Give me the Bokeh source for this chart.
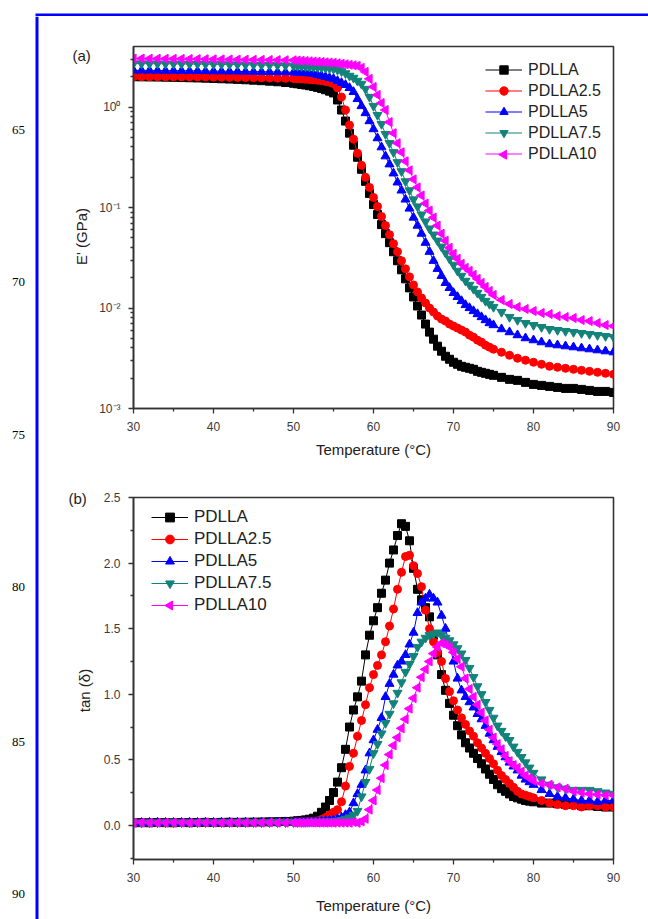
import numpy as np
from bokeh.plotting import figure
from bokeh.layouts import column, row
from bokeh.models import FixedTicker, Legend, LegendItem, Range1d
from bokeh.core.properties import value
from bokeh.embed import file_html
from bokeh.resources import INLINE

# ---------------------------------------------------------------- data
series_names = ["PDLLA", "PDLLA2.5", "PDLLA5", "PDLLA7.5", "PDLLA10"]

# (a) storage modulus; temperatures in degC, E' stored as log10(E' / GPa)
temp_a = [30, 31, 32, 33, 34, 35, 36, 37, 38, 39, 40, 41, 42, 43, 44, 45, 46, 47, 48, 49, 50,
          50.5, 51, 51.5, 52, 52.5, 53, 53.5, 54, 54.5, 55, 55.5, 56, 56.5, 57, 57.5, 58, 58.5, 59, 59.5, 60,
          60.5, 61, 61.5, 62, 62.5, 63, 63.5, 64, 64.5, 65, 65.5, 66, 66.5, 67, 67.5, 68, 68.5, 69, 69.5, 70,
          70.5, 71, 71.5, 72, 72.5, 73, 73.5, 74, 74.5, 75,
          76, 77, 78, 79, 80, 81, 82, 83, 84, 85, 86, 87, 88, 89, 90]

log_e_pdlla = [.301, .300, .299, .298, .297, .295, .293, .291, .289, .287, .284, .281, .278, .275, .271, .267, .262, .257, .251, .244, .236,
               .231, .225, .219, .212, .204, .195, .185, .172, .158, .140, .070, -.030, -.140, -.260, -.380, -.500, -.620, -.740, -.860, -.970,
               -1.07, -1.17, -1.26, -1.35, -1.44, -1.53, -1.62, -1.71, -1.80, -1.89, -1.98, -2.07, -2.16, -2.24, -2.31, -2.38, -2.43, -2.48, -2.51, -2.54,
               -2.56, -2.58, -2.59, -2.60, -2.61, -2.63, -2.64, -2.65, -2.66, -2.67,
               -2.69, -2.71, -2.72, -2.74, -2.76, -2.77, -2.78, -2.79, -2.80, -2.80, -2.81, -2.82, -2.83, -2.83, -2.84]

log_e_pdlla25 = [.302, .302, .301, .301, .300, .300, .299, .299, .298, .298, .297, .296, .295, .294, .293, .292, .290, .289, .287, .285, .283,
                 .281, .279, .276, .273, .270, .266, .261, .255, .247, .235, .190, .100, -.030, -.180, -.320, -.460, -.580, -.700, -.800, -.900,
                 -0.99, -1.09, -1.18, -1.27, -1.36, -1.44, -1.53, -1.61, -1.69, -1.77, -1.84, -1.90, -1.95, -2.00, -2.04, -2.08, -2.11, -2.13, -2.16, -2.18,
                 -2.20, -2.22, -2.24, -2.27, -2.29, -2.32, -2.34, -2.37, -2.39, -2.41,
                 -2.44, -2.47, -2.50, -2.52, -2.54, -2.56, -2.58, -2.59, -2.60, -2.61, -2.62, -2.63, -2.64, -2.65, -2.66]

log_e_pdlla5 = [.365, .364, .364, .363, .362, .362, .361, .360, .359, .358, .357, .356, .355, .354, .353, .352, .351, .350, .348, .347, .345,
                .343, .340, .338, .335, .330, .320, .310, .300, .290, .280, .260, .240, .220, .190, .150, .080, .010, -.060, -.140, -.220,
                -.31, -.40, -.49, -.57, -.66, -.75, -.83, -.92, -1.01, -1.10, -1.18, -1.26, -1.35, -1.44, -1.53, -1.61, -1.68, -1.75, -1.80, -1.85,
                -1.89, -1.93, -1.97, -2.00, -2.03, -2.06, -2.09, -2.12, -2.15, -2.17,
                -2.21, -2.24, -2.27, -2.30, -2.32, -2.34, -2.36, -2.37, -2.38, -2.39, -2.40, -2.41, -2.42, -2.43, -2.44]

log_e_pdlla75 = [.432, .432, .431, .431, .430, .430, .429, .428, .427, .426, .425, .424, .423, .422, .420, .419, .417, .416, .414, .412, .410,
                 .408, .405, .403, .400, .398, .395, .392, .390, .385, .380, .370, .355, .335, .310, .290, .260, .230, .180, .100, .010,
                 -.08, -.17, -.27, -.36, -.45, -.55, -.64, -.74, -.83, -.92, -.99, -1.07, -1.14, -1.21, -1.27, -1.33, -1.39, -1.45, -1.51, -1.57,
                 -1.63, -1.68, -1.73, -1.77, -1.81, -1.85, -1.89, -1.93, -1.96, -1.99,
                 -2.04, -2.09, -2.12, -2.15, -2.17, -2.19, -2.21, -2.22, -2.23, -2.24, -2.25, -2.26, -2.27, -2.28, -2.29]

log_e_pdlla10 = [.482, .482, .481, .481, .480, .480, .479, .478, .477, .476, .475, .474, .473, .472, .471, .470, .469, .468, .467, .466, .465,
                 .463, .460, .458, .455, .453, .450, .448, .445, .443, .440, .435, .430, .425, .420, .415, .410, .390, .350, .280, .200,
                 .12, .04, -.03, -.15, -.26, -.36, -.45, -.54, -.63, -.72, -.80, -.88, -.96, -1.03, -1.10, -1.18, -1.26, -1.33, -1.40, -1.46,
                 -1.51, -1.56, -1.60, -1.63, -1.67, -1.71, -1.75, -1.79, -1.83, -1.87,
                 -1.92, -1.96, -1.99, -2.01, -2.03, -2.05, -2.06, -2.08, -2.09, -2.10, -2.12, -2.13, -2.15, -2.17, -2.18]

# (b) loss factor tan(delta)
temp_b = [30, 31, 32, 33, 34, 35, 36, 37, 38, 39, 40, 41, 42, 43, 44, 45, 46, 47, 48, 49, 50,
          50.5, 51, 51.5, 52, 52.5, 53, 53.5, 54, 54.5, 55, 55.5, 56, 56.5, 57, 57.5, 58, 58.5, 59, 59.5, 60,
          60.5, 61, 61.5, 62, 62.5, 63, 63.5, 64, 64.5, 65, 65.5, 66, 66.5, 67, 67.5, 68, 68.5, 69, 69.5, 70,
          70.5, 71, 71.5, 72, 72.5, 73, 73.5, 74, 74.5, 75, 75.5, 76, 76.5, 77, 77.5, 78, 78.5, 79, 79.5, 80,
          81, 82, 83, 84, 85, 86, 87, 88, 89, 90]

tan_pdlla = [.020, .021, .020, .022, .021, .020, .022, .021, .022, .023, .022, .023, .024, .023, .024, .025, .026, .027, .028, .030, .032,
             .035, .038, .042, .047, .055, .070, .100, .140, .190, .250, .330, .440, .580, .750, .880, .980, 1.10, 1.30, 1.45, 1.56,
             1.66, 1.77, 1.87, 2.00, 2.10, 2.21, 2.30, 2.28, 2.17, 1.96, 1.80, 1.72, 1.66, 1.59, 1.45, 1.30, 1.15, 1.03, 0.93, 0.84,
             0.76, 0.69, 0.63, 0.59, 0.55, 0.51, 0.47, 0.43, 0.39, 0.35, 0.31, 0.28, 0.26, 0.24, 0.22, 0.21, 0.20, 0.19, 0.185, 0.18,
             0.17, 0.17, 0.165, 0.16, 0.16, 0.15, 0.15, 0.145, 0.14, 0.14]

tan_pdlla25 = [.020, .019, .020, .021, .020, .019, .020, .021, .020, .021, .020, .021, .020, .021, .022, .021, .022, .023, .024, .025, .026,
               .027, .028, .029, .030, .032, .036, .045, .060, .080, .100, .120, .180, .300, .450, .550, .680, .800, .920, 1.05, 1.15,
               1.22, 1.30, 1.40, 1.52, 1.65, 1.80, 1.93, 2.05, 2.06, 1.98, 1.92, 1.82, 1.64, 1.50, 1.40, 1.32, 1.25, 1.12, 1.02, 0.95,
               0.88, 0.82, 0.77, 0.72, 0.68, 0.63, 0.59, 0.55, 0.51, 0.47, 0.42, 0.38, 0.35, 0.32, 0.29, 0.26, 0.24, 0.23, 0.22, 0.21,
               0.19, 0.17, 0.16, 0.15, 0.15, 0.14, 0.15, 0.15, 0.14, 0.14]

tan_pdlla5 = [.021, .020, .021, .022, .021, .020, .021, .022, .021, .022, .021, .022, .023, .022, .023, .022, .023, .024, .024, .025, .025,
              .026, .026, .027, .027, .028, .030, .032, .035, .037, .040, .050, .060, .080, .100, .170, .240, .310, .420, .550, .650,
              .73, .82, .98, 1.08, 1.15, 1.22, 1.25, 1.30, 1.38, 1.47, 1.62, 1.70, 1.73, 1.76, 1.73, 1.70, 1.60, 1.50, 1.38, 1.25,
              1.12, 1.03, .98, .94, .90, .85, .81, .76, .70, .65, .60, .56, .52, .48, .45, .42, .38, .35, .33, .31,
              .27, .24, .22, .21, .20, .19, .19, .18, .19, .19]

tan_pdlla75 = [.022, .021, .022, .021, .022, .023, .022, .021, .022, .023, .022, .023, .022, .023, .022, .023, .022, .023, .024, .023, .024,
               .024, .025, .025, .026, .026, .027, .028, .028, .029, .030, .035, .040, .050, .060, .080, .110, .220, .330, .430, .550,
               .62, .70, .78, .85, .93, 1.01, 1.09, 1.17, 1.23, 1.29, 1.36, 1.40, 1.43, 1.45, 1.46, 1.47, 1.45, 1.43, 1.41, 1.38,
               1.35, 1.31, 1.26, 1.20, 1.13, 1.06, 1.00, .94, .88, .82, .76, .72, .68, .65, .60, .56, .52, .48, .44, .40,
               .35, .31, .29, .28, .27, .27, .27, .26, .25, .24]

tan_pdlla10 = [.021, .022, .021, .020, .021, .022, .021, .020, .021, .022, .021, .020, .021, .022, .021, .020, .021, .022, .021, .020, .021,
               .021, .020, .021, .022, .021, .020, .021, .020, .021, .020, .021, .020, .021, .020, .025, .020, .030, .050, .120, .190,
               .27, .36, .46, .54, .61, .67, .74, .81, .89, .97, 1.05, 1.13, 1.19, 1.25, 1.31, 1.36, 1.39, 1.38, 1.36, 1.32,
               1.27, 1.21, 1.12, 1.04, .98, .92, .86, .80, .73, .67, .62, .58, .53, .49, .46, .44, .41, .38, .36, .34,
               .32, .31, .29, .28, .26, .25, .24, .235, .23, .23]

temp_ticks = [30, 40, 50, 60, 70, 80, 90]
temp_minor_ticks = [35, 45, 55, 65, 75, 85]
e_ticks = [0.001, 0.01, 0.1, 1]
e_tick_labels = ["10\u207b\u00b3", "10\u207b\u00b2", "10\u207b\u00b9", "10\u2070"]
tan_ticks = [0.0, 0.5, 1.0, 1.5, 2.0, 2.5]
tan_tick_labels = ["0.0", "0.5", "1.0", "1.5", "2.0", "2.5"]
tan_minor_ticks = [-0.25, 0.25, 0.75, 1.25, 1.75, 2.25]
line_numbers = ["65", "70", "75", "80", "85", "90"]
panel_tags = ["(a)", "(b)"]
y_titles = ["E' (GPa)", "tan (\u03b4)"]
x_title = "Temperature (\u00b0C)"

# ---------------------------------------------------------------- styles
SANS = "Liberation Sans"
SERIF = "Liberation Serif"
INK = "#333333"
PAGE_BLUE = "#0000ff"
colors = ["#000000", "#ff0000", "#0000ff", "#12837a", "#ff00ff"]
markers = ["square", "circle", "triangle", "inverted_triangle", "triangle"]
angles = [0, 0, 0, 0, np.pi / 2]     # last series: triangle turned to point left
sizes = [8, 8, 9, 9, 9]

PAGE_W, PAGE_H = 648, 919
TOP_H = 16      # top margin strip with the page rule
SIDE_W = 96     # left strip: page rule, line numbers, panel tags, y titles
FRAME_L = 133   # page x of both plot frames' left edge
FRAME_W = 480
LEG_GLYPH_W = 37


def style_axes(p, x_standoff):
    for ax in (p.xaxis[0], p.yaxis[0]):
        ax.axis_line_color = INK
        ax.axis_line_width = 1.6
        ax.major_tick_line_color = INK
        ax.minor_tick_line_color = INK
        ax.major_tick_line_width = 1.3
        ax.minor_tick_line_width = 1.3
        ax.major_tick_in = 0
        ax.major_tick_out = 5
        ax.minor_tick_in = 0
        ax.minor_tick_out = 3
        ax.major_label_text_font = SANS
        ax.major_label_text_font_size = "12px"
        ax.major_label_text_color = "#3a3a3a"
        ax.axis_label_text_font = SANS
        ax.axis_label_text_font_size = "15px"
        ax.axis_label_text_font_style = "normal"
        ax.axis_label_text_color = "#222222"
    p.xaxis[0].axis_label = x_title
    p.xaxis[0].major_label_standoff = 8
    p.yaxis[0].major_label_standoff = 8
    p.xaxis[0].axis_label_standoff = x_standoff
    p.xaxis[0].ticker = FixedTicker(ticks=temp_ticks, minor_ticks=temp_minor_ticks)
    p.xgrid.visible = False
    p.ygrid.visible = False
    p.outline_line_color = INK
    p.outline_line_width = 1.6
    p.outline_line_alpha = 1.0


def add_series(p, temps, values, idx):
    src = dict(x=temps, y=values)
    ln = p.line("x", "y", source=src, line_color=colors[idx], line_width=1)
    sc = p.scatter("x", "y", source=src, marker=markers[idx], size=sizes[idx],
                   angle=angles[idx], fill_color=colors[idx], line_color=colors[idx])
    return ln, sc


def build_legend(p, renderers, loc, row_h, font_size, frame_h, to_data_y):
    """Legend whose last key shows the left-pointing triangle.

    Bokeh draws legend markers unrotated, so that key marker is drawn as a
    glyph at the centre of the legend's last glyph cell instead.
    """
    items = []
    for i, (ln, sc) in enumerate(renderers):
        rs = [ln] if angles[i] else [ln, sc]
        items.append(LegendItem(label=series_names[i], renderers=rs))
    p.add_layout(Legend(items=items, location=loc, orientation="vertical",
                        glyph_width=LEG_GLYPH_W, glyph_height=row_h, label_height=row_h,
                        label_standoff=6, spacing=0, padding=0, margin=0,
                        label_text_font=SANS, label_text_font_size=font_size,
                        label_text_color="#222222", border_line_color=None,
                        background_fill_alpha=0))
    x0, x1 = p.x_range.start, p.x_range.end
    for i in range(len(renderers)):
        if not angles[i]:
            continue
        row_idx = len(renderers) - 1 - i
        px = loc[0] + LEG_GLYPH_W / 2
        py = loc[1] + (row_idx + 0.5) * row_h
        kx = x0 + px / FRAME_W * (x1 - x0)
        ky = to_data_y(py / frame_h)
        p.scatter([kx], [ky], marker=markers[i], size=sizes[i], angle=angles[i],
                  fill_color=colors[i], line_color=colors[i])


# ---------------------------------------------------------------- panel (a)
FRAME_H_A = 363
pa = figure(width=PAGE_W - SIDE_W, height=460 - TOP_H, output_backend="svg",
            toolbar_location=None, y_axis_type="log",
            x_range=Range1d(30, 90), y_range=Range1d(1e-3, 4),
            min_border_left=FRAME_L - SIDE_W, min_border_right=35,
            min_border_top=46 - TOP_H, min_border_bottom=51,
            background_fill_color="white", border_fill_color="white")
style_axes(pa, 7)
minor_log = [m * 10.0 ** d for d in (-3, -2, -1) for m in range(2, 10)] + [2.0, 3.0]
pa.yaxis[0].ticker = FixedTicker(ticks=e_ticks, minor_ticks=minor_log)
pa.yaxis[0].major_label_overrides = dict(zip(e_ticks, e_tick_labels))

rend_a = []
for i, logs in enumerate([log_e_pdlla, log_e_pdlla25, log_e_pdlla5, log_e_pdlla75, log_e_pdlla10]):
    rend_a.append(add_series(pa, temp_a, list(10.0 ** np.array(logs)), i))
lo_a, hi_a = np.log10(1e-3), np.log10(4)
# legend anchor is its lower-left corner, measured from the frame's lower-left
build_legend(pa, rend_a, (352, 244), 21, "16px", FRAME_H_A,
             lambda f: 10.0 ** (lo_a + f * (hi_a - lo_a)))

# ---------------------------------------------------------------- panel (b)
FRAME_H_B = 362
pb = figure(width=PAGE_W - SIDE_W, height=PAGE_H - 460, output_backend="svg",
            toolbar_location=None,
            x_range=Range1d(30, 90), y_range=Range1d(-0.26, 2.5),
            min_border_left=FRAME_L - SIDE_W, min_border_right=35,
            min_border_top=37, min_border_bottom=60,
            background_fill_color="white", border_fill_color="white")
style_axes(pb, 12)
pb.yaxis[0].ticker = FixedTicker(ticks=tan_ticks, minor_ticks=tan_minor_ticks)
pb.yaxis[0].major_label_overrides = dict(zip(tan_ticks, tan_tick_labels))

rend_b = []
for i, vals in enumerate([tan_pdlla, tan_pdlla25, tan_pdlla5, tan_pdlla75, tan_pdlla10]):
    rend_b.append(add_series(pb, temp_b, vals, i))
build_legend(pb, rend_b, (18, 243), 22, "17px", FRAME_H_B,
             lambda f: -0.26 + f * (2.5 - (-0.26)))


# ---------------------------------------------------------------- page margins
def blank_strip(w, h):
    s = figure(width=w, height=h, output_backend="svg", toolbar_location=None,
               x_range=Range1d(0, w), y_range=Range1d(0, h),
               x_axis_location=None, y_axis_location=None, min_border=0,
               outline_line_color=None, background_fill_color="white",
               border_fill_color="white")
    s.grid.visible = False
    return s


# top strip: blue page rule (page y 13..16)
top = blank_strip(PAGE_W, TOP_H)
top.quad(left=35, right=PAGE_W, top=TOP_H - 13, bottom=0,
         fill_color=PAGE_BLUE, line_color=None)

# left strip; its y runs upward from the page bottom (y = PAGE_H - page_y)
side_h = PAGE_H - TOP_H
side = blank_strip(SIDE_W, side_h)
side.quad(left=35, right=38, top=side_h, bottom=0, fill_color=PAGE_BLUE, line_color=None)
line_number_y = [129, 281, 434, 586, 741, 893]
side.text(x=[18] * len(line_numbers), y=[PAGE_H - v for v in line_number_y],
          text=line_numbers, text_font=value(SERIF), text_font_size=value("13px"),
          text_color="#000000", text_align="center", text_baseline="middle")
side.text(x=[72, 68], y=[PAGE_H - 55, PAGE_H - 498], text=panel_tags,
          text_font=value(SANS), text_font_size=value("15px"), text_color="#222222",
          text_align="left", text_baseline="middle")
side.text(x=[81, 84], y=[PAGE_H - 236, PAGE_H - 690], text=y_titles, angle=np.pi / 2,
          text_font=value(SANS), text_font_size=value("15px"), text_color="#222222",
          text_align="center", text_baseline="middle")

layout = column(top, row(side, column(pa, pb, spacing=0), spacing=0), spacing=0)
open("out.html", "w").write(file_html(layout, INLINE))
